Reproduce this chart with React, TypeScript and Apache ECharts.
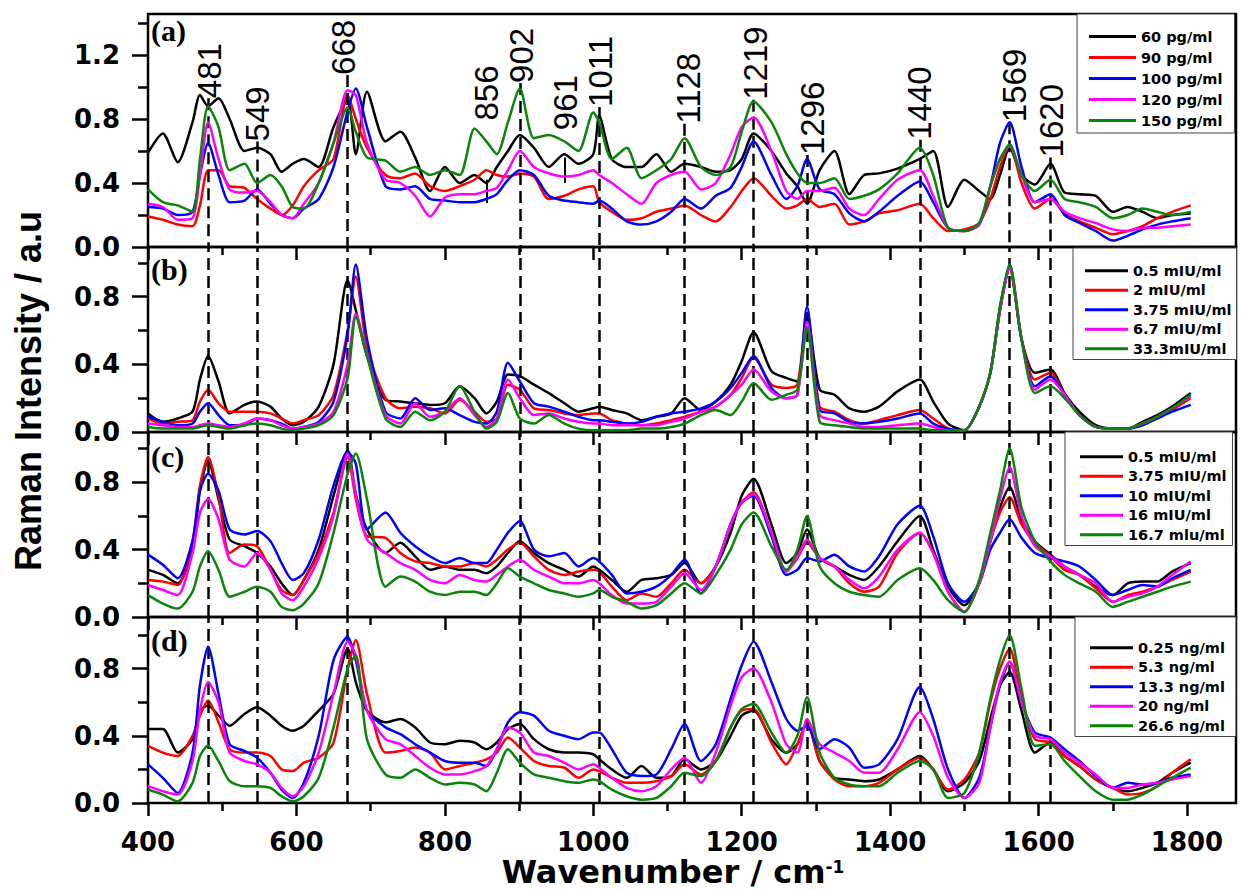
import React, { useEffect, useRef } from "react";
import * as echarts from "echarts";

// ---------- data ----------
const X = [
  400, 420, 440, 460, 470, 481, 495, 510, 530, 547,
  565, 580, 595, 610, 630, 650, 669, 680, 695, 720,
  740, 760, 780, 800, 820, 840, 856, 870, 885, 901,
  920, 940, 961, 980, 1000, 1008, 1025, 1045, 1065, 1085,
  1105, 1123, 1145, 1165, 1185, 1200, 1216, 1240, 1260, 1275,
  1288, 1305, 1325, 1345, 1365, 1385, 1410, 1440, 1458, 1478,
  1500, 1520, 1535, 1548, 1561, 1577, 1595, 1616, 1635, 1655,
  1677, 1700, 1720, 1740, 1760, 1780, 1805,
];

const COLORS = ["#000000", "#ff0000", "#0000ff", "#ff00ff", "#0a850a"];

const NAMES_A = ["60 pg/ml", "90 pg/ml", "100 pg/ml", "120 pg/ml", "150 pg/ml"];
const NAMES_B = ["0.5 mIU/ml", "2 mIU/ml", "3.75 mIU/ml", "6.7 mIU/ml", "33.3mIU/ml"];
const NAMES_C = ["0.5 mIU/ml", "3.75 mIU/ml", "10 mIU/ml", "16 mIU/ml", "16.7 mlu/ml"];
const NAMES_D = ["0.25 ng/ml", "5.3 ng/ml", "13.3 ng/ml", "20 ng/ml", "26.6 ng/ml"];

// panel (a)
const A_60 = [
  0.59, 0.71, 0.53, 0.78, 0.95, 0.88, 0.93, 0.80, 0.60, 0.62,
  0.58, 0.47, 0.52, 0.55, 0.50, 0.75, 0.92, 0.58, 0.97, 0.66,
  0.72, 0.56, 0.35, 0.50, 0.40, 0.45, 0.40, 0.50, 0.60, 0.70,
  0.62, 0.50, 0.58, 0.52, 0.58, 0.82, 0.55, 0.50, 0.50, 0.58,
  0.47, 0.52, 0.50, 0.47, 0.48, 0.55, 0.71, 0.60, 0.46, 0.38,
  0.27, 0.48, 0.60, 0.33, 0.45, 0.46, 0.49, 0.55, 0.60, 0.25,
  0.42, 0.35, 0.30, 0.45, 0.62, 0.45, 0.39, 0.52, 0.34, 0.33,
  0.32, 0.22, 0.25, 0.22, 0.18, 0.20, 0.21,
];
const A_90 = [
  0.19, 0.17, 0.14, 0.13, 0.26, 0.48, 0.48, 0.38, 0.37, 0.30,
  0.24, 0.20, 0.26, 0.38, 0.48, 0.55, 0.95, 0.80, 0.62, 0.45,
  0.43, 0.46, 0.38, 0.35, 0.38, 0.42, 0.48, 0.45, 0.44, 0.46,
  0.44, 0.30, 0.32, 0.36, 0.38, 0.28, 0.22, 0.17, 0.18, 0.22,
  0.24, 0.26, 0.20, 0.16, 0.25, 0.35, 0.43, 0.32, 0.24, 0.26,
  0.30, 0.25, 0.27, 0.14, 0.16, 0.21, 0.23, 0.27, 0.18, 0.10,
  0.11, 0.15, 0.30, 0.50, 0.64, 0.40, 0.24, 0.30, 0.21, 0.16,
  0.12, 0.08, 0.10, 0.13, 0.18, 0.22, 0.26,
];
const A_100 = [
  0.25, 0.24, 0.20, 0.22, 0.45, 0.65, 0.45, 0.28, 0.29, 0.36,
  0.27, 0.20, 0.18, 0.24, 0.30, 0.50, 0.85, 0.99, 0.75, 0.38,
  0.36, 0.38, 0.30, 0.29, 0.28, 0.28, 0.30, 0.33, 0.42, 0.48,
  0.45, 0.32, 0.29, 0.28, 0.27, 0.29, 0.24, 0.16, 0.14, 0.16,
  0.22, 0.30, 0.24, 0.32, 0.37, 0.50, 0.66, 0.45, 0.30, 0.38,
  0.55, 0.36, 0.33, 0.21, 0.16, 0.22, 0.32, 0.41, 0.28, 0.12,
  0.10, 0.14, 0.38, 0.65, 0.78, 0.50, 0.28, 0.33, 0.20, 0.15,
  0.10, 0.04, 0.07, 0.11, 0.14, 0.16, 0.18,
];
const A_120 = [
  0.27, 0.25, 0.17, 0.18, 0.45, 0.78, 0.55, 0.36, 0.34, 0.35,
  0.28, 0.20, 0.18, 0.27, 0.40, 0.65, 0.98, 0.95, 0.65, 0.42,
  0.40, 0.32, 0.19, 0.31, 0.33, 0.33, 0.35, 0.37, 0.48, 0.60,
  0.50, 0.46, 0.44, 0.45, 0.48, 0.45, 0.40, 0.33, 0.27, 0.40,
  0.45, 0.47, 0.36, 0.40, 0.58, 0.75, 0.81, 0.60, 0.35, 0.30,
  0.35, 0.35, 0.37, 0.24, 0.20, 0.30, 0.42, 0.48, 0.32, 0.12,
  0.10, 0.14, 0.38, 0.55, 0.63, 0.45, 0.28, 0.30, 0.22, 0.18,
  0.15, 0.11, 0.10, 0.12, 0.12, 0.13, 0.14,
];
const A_150 = [
  0.36, 0.28, 0.26, 0.22, 0.55, 0.88, 0.75, 0.48, 0.52, 0.40,
  0.45, 0.38, 0.25, 0.24, 0.40, 0.65, 0.87, 0.72, 0.56, 0.54,
  0.47, 0.50, 0.45, 0.48, 0.45, 0.74, 0.66, 0.58, 0.78, 0.99,
  0.68, 0.70, 0.66, 0.60, 0.84, 0.78, 0.55, 0.62, 0.43, 0.48,
  0.55, 0.68, 0.50, 0.45, 0.50, 0.72, 0.91, 0.78, 0.58, 0.46,
  0.40, 0.40, 0.43, 0.30, 0.32, 0.36, 0.46, 0.62, 0.45, 0.12,
  0.10, 0.15, 0.38, 0.55, 0.64, 0.45, 0.35, 0.42, 0.30, 0.28,
  0.25, 0.18, 0.20, 0.24, 0.22, 0.20, 0.22,
];

// panel (b)
const B_05 = [
  0.11, 0.06, 0.08, 0.12, 0.31, 0.45, 0.30, 0.11, 0.16, 0.18,
  0.15, 0.08, 0.04, 0.06, 0.15, 0.40, 0.90, 0.72, 0.45, 0.19,
  0.18, 0.17, 0.16, 0.17, 0.27, 0.20, 0.11, 0.18, 0.34, 0.33,
  0.28, 0.23, 0.17, 0.12, 0.14, 0.15, 0.13, 0.11, 0.07, 0.09,
  0.11, 0.20, 0.13, 0.18, 0.28, 0.42, 0.59, 0.36, 0.32, 0.30,
  0.70, 0.25, 0.22, 0.14, 0.12, 0.15, 0.24, 0.31, 0.18, 0.05,
  0.01, 0.15, 0.35, 0.74, 0.97, 0.55, 0.35, 0.37, 0.23, 0.12,
  0.04, 0.02, 0.02, 0.06, 0.10, 0.15, 0.23,
];
const B_2 = [
  0.08, 0.05, 0.06, 0.07, 0.18, 0.25, 0.17, 0.12, 0.12, 0.12,
  0.11, 0.08, 0.05, 0.07, 0.10, 0.22, 0.60, 0.92, 0.50, 0.20,
  0.14, 0.15, 0.14, 0.11, 0.19, 0.12, 0.06, 0.08, 0.28, 0.25,
  0.14, 0.13, 0.11, 0.10, 0.11, 0.11, 0.07, 0.05, 0.04, 0.05,
  0.07, 0.09, 0.12, 0.15, 0.22, 0.32, 0.44, 0.28, 0.26, 0.28,
  0.70, 0.15, 0.12, 0.07, 0.05, 0.07, 0.10, 0.13, 0.08, 0.02,
  0.01, 0.15, 0.35, 0.72, 0.97, 0.55, 0.31, 0.35, 0.22, 0.10,
  0.03, 0.02, 0.02, 0.05, 0.08, 0.13, 0.20,
];
const B_375 = [
  0.09, 0.06, 0.04, 0.05, 0.12, 0.17, 0.10, 0.04, 0.04, 0.08,
  0.07, 0.05, 0.02, 0.03, 0.06, 0.18, 0.58, 0.99, 0.55, 0.12,
  0.08, 0.20, 0.13, 0.14, 0.10, 0.06, 0.05, 0.12, 0.41, 0.30,
  0.17, 0.15, 0.12, 0.09, 0.07, 0.07, 0.06, 0.05, 0.06, 0.09,
  0.11, 0.12, 0.14, 0.18, 0.26, 0.35, 0.45, 0.26, 0.20, 0.22,
  0.74, 0.13, 0.11, 0.06, 0.05, 0.06, 0.08, 0.11, 0.05, 0.02,
  0.01, 0.15, 0.35, 0.72, 0.99, 0.55, 0.27, 0.33, 0.22, 0.10,
  0.03, 0.02, 0.02, 0.04, 0.08, 0.12, 0.16,
];
const B_67 = [
  0.05, 0.04, 0.03, 0.03, 0.04, 0.05, 0.04, 0.03, 0.05, 0.08,
  0.07, 0.04, 0.02, 0.03, 0.05, 0.12, 0.40, 0.70, 0.46, 0.10,
  0.05, 0.17, 0.09, 0.12, 0.20, 0.10, 0.03, 0.08, 0.31, 0.20,
  0.10, 0.11, 0.08, 0.06, 0.05, 0.05, 0.04, 0.04, 0.04, 0.04,
  0.06, 0.08, 0.12, 0.15, 0.22, 0.28, 0.37, 0.24, 0.20, 0.22,
  0.65, 0.10, 0.07, 0.05, 0.03, 0.03, 0.04, 0.05, 0.03, 0.01,
  0.01, 0.15, 0.35, 0.72, 0.97, 0.55, 0.25, 0.31, 0.22, 0.10,
  0.03, 0.02, 0.02, 0.05, 0.09, 0.14, 0.21,
];
const B_333 = [
  0.03, 0.02, 0.02, 0.02, 0.03, 0.04, 0.03, 0.02, 0.04, 0.05,
  0.04, 0.02, 0.01, 0.02, 0.04, 0.10, 0.32, 0.68, 0.45, 0.08,
  0.03, 0.12, 0.07, 0.12, 0.27, 0.12, 0.02, 0.06, 0.23, 0.08,
  0.05, 0.10, 0.05, 0.02, 0.01, 0.01, 0.01, 0.01, 0.02, 0.02,
  0.03, 0.05, 0.10, 0.13, 0.10, 0.18, 0.29, 0.19, 0.22, 0.25,
  0.62, 0.06, 0.04, 0.03, 0.02, 0.02, 0.02, 0.02, 0.01, 0.01,
  0.01, 0.15, 0.35, 0.74, 0.99, 0.55, 0.23, 0.27, 0.20, 0.10,
  0.03, 0.02, 0.02, 0.05, 0.09, 0.14, 0.22,
];

// panel (c)
const C_05 = [
  0.28, 0.25, 0.20, 0.40, 0.75, 0.93, 0.70, 0.46, 0.42, 0.38,
  0.30, 0.20, 0.13, 0.22, 0.40, 0.72, 0.99, 0.73, 0.52, 0.38,
  0.44, 0.36, 0.28, 0.30, 0.28, 0.28, 0.26, 0.30, 0.38, 0.45,
  0.38, 0.32, 0.28, 0.24, 0.30, 0.28, 0.22, 0.15, 0.22, 0.23,
  0.25, 0.32, 0.20, 0.30, 0.50, 0.72, 0.82, 0.55, 0.32, 0.38,
  0.52, 0.35, 0.30, 0.25, 0.22, 0.30, 0.45, 0.60, 0.40, 0.18,
  0.07, 0.20, 0.45, 0.65, 0.77, 0.58, 0.45, 0.37, 0.30, 0.25,
  0.18, 0.13, 0.20, 0.21, 0.21, 0.27, 0.32,
];
const C_375 = [
  0.22, 0.21, 0.19, 0.45, 0.78, 0.95, 0.72, 0.38, 0.43, 0.42,
  0.28, 0.16, 0.13, 0.22, 0.38, 0.62, 0.95, 0.70, 0.48, 0.47,
  0.38, 0.33, 0.32, 0.30, 0.30, 0.32, 0.30, 0.34, 0.40, 0.44,
  0.36, 0.28, 0.25, 0.27, 0.28, 0.27, 0.18, 0.10, 0.14, 0.12,
  0.20, 0.28, 0.20, 0.30, 0.55, 0.68, 0.74, 0.50, 0.27, 0.35,
  0.44, 0.35, 0.30, 0.20, 0.15, 0.18, 0.38, 0.50, 0.38, 0.15,
  0.03, 0.20, 0.45, 0.62, 0.71, 0.55, 0.44, 0.36, 0.28, 0.25,
  0.17, 0.09, 0.13, 0.15, 0.18, 0.22, 0.27,
];
const C_10 = [
  0.37, 0.31, 0.23, 0.45, 0.75, 0.85, 0.75, 0.52, 0.49, 0.51,
  0.45, 0.32, 0.22, 0.26, 0.46, 0.78, 0.98, 0.91, 0.52, 0.62,
  0.50, 0.42, 0.36, 0.32, 0.35, 0.32, 0.32, 0.40, 0.50, 0.57,
  0.40, 0.36, 0.38, 0.30, 0.35, 0.33, 0.25, 0.14, 0.15, 0.18,
  0.25, 0.34, 0.14, 0.30, 0.55, 0.68, 0.72, 0.48, 0.25, 0.28,
  0.35, 0.33, 0.37, 0.30, 0.27, 0.36, 0.55, 0.66, 0.48, 0.20,
  0.09, 0.20, 0.40, 0.50, 0.58, 0.47, 0.38, 0.35, 0.33, 0.30,
  0.22, 0.13, 0.16, 0.19, 0.18, 0.23, 0.28,
];
const C_16 = [
  0.19, 0.16, 0.13, 0.38, 0.62, 0.70, 0.58, 0.34, 0.30, 0.38,
  0.28, 0.14, 0.10, 0.18, 0.35, 0.60, 0.97, 0.72, 0.46, 0.38,
  0.32, 0.28, 0.22, 0.20, 0.25, 0.22, 0.21, 0.25, 0.30, 0.34,
  0.28, 0.24, 0.20, 0.20, 0.22, 0.20, 0.13, 0.08, 0.08, 0.09,
  0.18, 0.26, 0.16, 0.30, 0.55, 0.68, 0.73, 0.50, 0.27, 0.36,
  0.46, 0.35, 0.30, 0.22, 0.17, 0.24, 0.40, 0.50, 0.38, 0.15,
  0.03, 0.20, 0.45, 0.70, 0.89, 0.60, 0.42, 0.36, 0.30, 0.25,
  0.20, 0.09, 0.12, 0.14, 0.18, 0.25, 0.33,
];
const C_167 = [
  0.13, 0.08, 0.05, 0.15, 0.30, 0.39, 0.28, 0.12, 0.15, 0.18,
  0.15, 0.06, 0.04, 0.08, 0.20, 0.50, 0.85, 0.97, 0.70, 0.18,
  0.24, 0.21, 0.15, 0.13, 0.15, 0.15, 0.13, 0.20, 0.29, 0.24,
  0.20, 0.16, 0.14, 0.12, 0.14, 0.16, 0.12, 0.09, 0.05, 0.07,
  0.14, 0.20, 0.14, 0.25, 0.40, 0.55, 0.62, 0.42, 0.28, 0.40,
  0.60, 0.30, 0.20, 0.15, 0.13, 0.12, 0.22, 0.29, 0.22, 0.10,
  0.03, 0.22, 0.50, 0.75, 1.00, 0.65, 0.45, 0.33, 0.25, 0.20,
  0.15, 0.06, 0.09, 0.12, 0.15, 0.18, 0.21,
];

// panel (d)
const D_025 = [
  0.44, 0.44, 0.30, 0.38, 0.55, 0.58, 0.52, 0.46, 0.53, 0.57,
  0.52, 0.46, 0.43, 0.46, 0.55, 0.65, 0.92, 0.72, 0.55, 0.48,
  0.50, 0.45, 0.36, 0.35, 0.37, 0.36, 0.32, 0.36, 0.44, 0.47,
  0.38, 0.32, 0.30, 0.30, 0.29, 0.26, 0.20, 0.15, 0.22, 0.15,
  0.16, 0.26, 0.20, 0.25, 0.40, 0.52, 0.55, 0.38, 0.30, 0.35,
  0.48, 0.25, 0.15, 0.14, 0.13, 0.14, 0.20, 0.28, 0.20, 0.07,
  0.12, 0.25, 0.50, 0.70, 0.78, 0.55, 0.30, 0.36, 0.28, 0.22,
  0.14, 0.09, 0.07, 0.09, 0.12, 0.18, 0.24,
];
const D_53 = [
  0.34, 0.30, 0.28, 0.40, 0.52, 0.61, 0.48, 0.32, 0.30, 0.30,
  0.28, 0.20, 0.19, 0.24, 0.27, 0.36, 0.80, 0.97, 0.65, 0.30,
  0.31, 0.33, 0.30, 0.20, 0.22, 0.24, 0.26, 0.30, 0.39, 0.33,
  0.25, 0.22, 0.21, 0.15, 0.20, 0.19, 0.15, 0.12, 0.12, 0.13,
  0.16, 0.23, 0.17, 0.25, 0.45, 0.55, 0.56, 0.36, 0.23, 0.35,
  0.48, 0.25, 0.14, 0.10, 0.10, 0.12, 0.20, 0.27, 0.20, 0.08,
  0.14, 0.30, 0.60, 0.80, 0.92, 0.62, 0.38, 0.36, 0.28, 0.22,
  0.14, 0.09, 0.05, 0.06, 0.10, 0.18, 0.26,
];
const D_133 = [
  0.23, 0.15, 0.06, 0.30, 0.70, 0.93, 0.65, 0.35, 0.31, 0.27,
  0.18, 0.08, 0.03, 0.12, 0.40, 0.85, 0.99, 0.85, 0.55, 0.45,
  0.41, 0.35, 0.30, 0.25, 0.24, 0.24, 0.22, 0.32, 0.48, 0.54,
  0.52, 0.43, 0.40, 0.38, 0.42, 0.42, 0.32, 0.18, 0.16, 0.17,
  0.32, 0.47, 0.25, 0.35, 0.62, 0.82, 0.96, 0.72, 0.50, 0.43,
  0.46, 0.32, 0.38, 0.33, 0.21, 0.23, 0.38, 0.69, 0.50, 0.20,
  0.03, 0.15, 0.45, 0.70, 0.84, 0.60, 0.42, 0.39, 0.32, 0.25,
  0.16, 0.09, 0.12, 0.11, 0.12, 0.15, 0.17,
];
const D_20 = [
  0.10, 0.07, 0.05, 0.25, 0.55, 0.72, 0.60, 0.30, 0.25, 0.23,
  0.18, 0.09, 0.04, 0.10, 0.30, 0.65, 0.96, 0.88, 0.55, 0.38,
  0.35, 0.28, 0.21, 0.17, 0.17, 0.19, 0.22, 0.32, 0.45, 0.42,
  0.30, 0.28, 0.24, 0.20, 0.23, 0.21, 0.15, 0.09, 0.07, 0.10,
  0.20, 0.27, 0.12, 0.30, 0.58, 0.75, 0.80, 0.60, 0.35, 0.30,
  0.50, 0.35, 0.30, 0.25, 0.18, 0.18, 0.32, 0.54, 0.40, 0.15,
  0.03, 0.12, 0.45, 0.72, 0.84, 0.60, 0.40, 0.38, 0.30, 0.24,
  0.17, 0.09, 0.09, 0.11, 0.12, 0.14, 0.16,
];
const D_266 = [
  0.08, 0.05, 0.01, 0.12, 0.28, 0.34, 0.25, 0.13, 0.10, 0.10,
  0.09, 0.04, 0.01, 0.04, 0.15, 0.45, 0.80, 0.88, 0.38, 0.17,
  0.15, 0.20, 0.15, 0.11, 0.12, 0.11, 0.07, 0.18, 0.32, 0.24,
  0.17, 0.15, 0.13, 0.12, 0.14, 0.13, 0.08, 0.04, 0.02, 0.03,
  0.10, 0.18, 0.16, 0.25, 0.45, 0.56, 0.59, 0.42, 0.30, 0.40,
  0.63, 0.30, 0.15, 0.11, 0.10, 0.10, 0.18, 0.25, 0.20, 0.03,
  0.06, 0.30, 0.62, 0.85, 1.00, 0.68, 0.34, 0.35, 0.25, 0.16,
  0.07, 0.02, 0.02, 0.05, 0.10, 0.15, 0.21,
];

// peak annotations (panel a)
const PEAK_LABELS = ["481", "549", "668", "856", "902", "961", "1011", "1128", "1219", "1296", "1440", "1569", "1620"];
const PEAK_LABEL_X = [483, 548, 664, 856, 903, 962, 1010, 1128, 1219, 1295, 1440, 1567, 1617];
const PEAK_LABEL_Y = [0.93, 0.66, 1.075, 0.79, 1.025, 0.73, 0.875, 0.77, 0.92, 0.575, 0.67, 0.78, 0.56];
const PEAK_LINES = [481, 547, 669, 901, 1008, 1123, 1216, 1288, 1440, 1561, 1616];
const PEAK_LINE_TOP_A = [0.93, 0.66, 1.075, 1.025, 0.875, 0.77, 0.92, 0.575, 0.67, 0.78, 0.56];
const SHORT_MARK_X = [856, 961];
const SHORT_MARK_Y0 = [0.275, 0.40];
const SHORT_MARK_Y1 = [0.42, 0.56];

const X_MAJOR = [400, 600, 800, 1000, 1200, 1400, 1600, 1800];
const X_MINOR = [500, 700, 900, 1100, 1300, 1500, 1700];
const Y_MAJOR_A = [0, 0.4, 0.8, 1.2];
const Y_MINOR_A = [0.2, 0.6, 1.0, 1.4];
const Y_MAJOR = [0, 0.4, 0.8];
const Y_MINOR = [0.2, 0.6, 1.0];

// ---------- layout ----------
const PLOT_LEFT = 148;
const PLOT_WIDTH = 1088;
const PANELS = [
  { names: NAMES_A, values: [A_60, A_90, A_100, A_120, A_150], top: 14, height: 233, yMax: 1.456, yMajor: Y_MAJOR_A, yMinor: Y_MINOR_A, tag: "(a)", tagY: 30 },
  { names: NAMES_B, values: [B_05, B_2, B_375, B_67, B_333], top: 247, height: 185, yMax: 1.094, yMajor: Y_MAJOR, yMinor: Y_MINOR, tag: "(b)", tagY: 269 },
  { names: NAMES_C, values: [C_05, C_375, C_10, C_16, C_167], top: 432, height: 185, yMax: 1.098, yMajor: Y_MAJOR, yMinor: Y_MINOR, tag: "(c)", tagY: 456 },
  { names: NAMES_D, values: [D_025, D_53, D_133, D_20, D_266], top: 617, height: 186, yMax: 1.107, yMajor: Y_MAJOR, yMinor: Y_MINOR, tag: "(d)", tagY: 640 },
];
const LEGENDS = [
  { left: 1077, top: 14, padding: [12, 12, 2, 12], itemWidth: 47, lineHeight: 21 },
  { left: 1073, top: 248, padding: [13, 5, 1, 12], itemWidth: 43, lineHeight: 19.5 },
  { left: 1065, top: 432, padding: [15, 6, 1, 15], itemWidth: 43, lineHeight: 19.5 },
  { left: 1075, top: 617, padding: [21, 11, 1, 15], itemWidth: 43, lineHeight: 19.5 },
];

const AXIS_FONT = "DejaVu Sans";

function buildOption() {
  const grid: any[] = [];
  const xAxis: any[] = [];
  const yAxis: any[] = [];
  const series: any[] = [];
  const legend: any[] = [];
  const graphic: any[] = [];

  PANELS.forEach((p, i) => {
    grid.push({
      left: PLOT_LEFT,
      top: p.top,
      width: PLOT_WIDTH,
      height: p.height,
      show: true,
      borderColor: "#000",
      borderWidth: 2.5,
      backgroundColor: "transparent",
      containLabel: false,
    });
    const isLast = i === PANELS.length - 1;
    // major x
    xAxis.push({
      gridIndex: i,
      type: "value",
      position: "bottom",
      min: 400,
      max: 1866,
      interval: 200,
      axisLine: { show: false },
      axisTick: { show: true, inside: false, length: 13, customValues: X_MAJOR, lineStyle: { color: "#000", width: 2.5 } },
      axisLabel: {
        show: isLast,
        customValues: X_MAJOR,
        formatter: (v: number) => String(v),
        margin: 29,
        verticalAlign: "top",
        lineHeight: 20,
        color: "#000",
        fontFamily: AXIS_FONT,
        fontWeight: "bold",
        fontSize: 26,
      },
      splitLine: { show: false },
    });
    // minor x
    xAxis.push({
      gridIndex: i,
      type: "value",
      position: "bottom",
      offset: 0,
      min: 400,
      max: 1866,
      interval: 100,
      axisLine: { show: false },
      axisTick: { show: true, inside: false, length: 8, customValues: X_MINOR, lineStyle: { color: "#000", width: 2.5 } },
      axisLabel: { show: false },
      splitLine: { show: false },
    });
    // major y
    yAxis.push({
      gridIndex: i,
      type: "value",
      position: "left",
      min: 0,
      max: p.yMax,
      interval: 0.4,
      axisLine: { show: false },
      axisTick: { show: true, inside: false, length: 16, customValues: p.yMajor, lineStyle: { color: "#000", width: 2.5 } },
      axisLabel: {
        show: true,
        customValues: p.yMajor,
        formatter: (v: number) => v.toFixed(1),
        margin: 28,
        color: "#000",
        fontFamily: AXIS_FONT,
        fontWeight: "bold",
        fontSize: 26,
      },
      splitLine: { show: false },
    });
    // minor y
    yAxis.push({
      gridIndex: i,
      type: "value",
      position: "left",
      offset: 0,
      min: 0,
      max: p.yMax,
      interval: 0.2,
      axisLine: { show: false },
      axisTick: { show: true, inside: false, length: 10, customValues: p.yMinor, lineStyle: { color: "#000", width: 2.5 } },
      axisLabel: { show: false },
      splitLine: { show: false },
    });

    p.names.forEach((name, j) => {
      const s: any = {
        type: "line",
        name,
        xAxisIndex: 2 * i,
        yAxisIndex: 2 * i,
        data: X.map((x, k) => [x, p.values[j][k]]),
        symbol: "none",
        showSymbol: false,
        smooth: 0.25,
        color: COLORS[j],
        lineStyle: { color: COLORS[j], width: 2.5 },
        itemStyle: { color: COLORS[j] },
        z: 3 + j,
        silent: true,
      };
      if (j === 0) {
        const lineData =
          i === 0
            ? PEAK_LINES.map((x, k) => [{ coord: [x, PEAK_LINE_TOP_A[k]] }, { coord: [x, 0] }])
            : PEAK_LINES.map((x) => ({ xAxis: x }));
        s.markLine = {
          silent: true,
          symbol: ["none", "none"],
          label: { show: false },
          lineStyle: { color: "#000", type: [12, 6], width: 2.5 },
          data: lineData,
        };
      }
      series.push(s);
    });

    const lg = LEGENDS[i];
    legend.push({
      orient: "vertical",
      left: lg.left,
      top: lg.top,
      padding: lg.padding,
      itemGap: 0,
      itemWidth: lg.itemWidth,
      itemHeight: 3,
      icon: "rect",
      selectedMode: false,
      borderColor: "#444",
      borderWidth: 1,
      backgroundColor: "#fff",
      textStyle: {
        color: "#000",
        fontFamily: AXIS_FONT,
        fontWeight: "bold",
        fontSize: 14.5,
        lineHeight: lg.lineHeight,
      },
      data: p.names.map((n, j) => ({ name: n, icon: "rect", itemStyle: { color: COLORS[j] } })),
    });

    graphic.push({
      type: "text",
      x: PLOT_LEFT + 3,
      y: p.tagY,
      z: 100,
      style: {
        text: p.tag,
        fontFamily: "Liberation Serif",
        fontWeight: "bold",
        fontSize: 30,
        fill: "#000",
        align: "left",
        verticalAlign: "middle",
      },
    });
  });

  // short solid marks in panel (a)
  series.push({
    type: "line",
    xAxisIndex: 0,
    yAxisIndex: 0,
    data: [],
    silent: true,
    markLine: {
      silent: true,
      symbol: ["none", "none"],
      label: { show: false },
      lineStyle: { color: "#000", type: "solid", width: 2 },
      data: SHORT_MARK_X.map((x, k) => [{ coord: [x, SHORT_MARK_Y0[k]] }, { coord: [x, SHORT_MARK_Y1[k]] }]),
    },
  });

  // peak labels in panel (a)
  series.push({
    type: "scatter",
    xAxisIndex: 0,
    yAxisIndex: 0,
    symbolSize: 1,
    silent: true,
    itemStyle: { color: "rgba(0,0,0,0)", opacity: 1 },
    z: 20,
    data: PEAK_LABELS.map((t, k) => ({ value: [PEAK_LABEL_X[k], PEAK_LABEL_Y[k]], name: t })),
    label: {
      show: true,
      formatter: (p: any) => p.name,
      position: "inside",
      rotate: 90,
      align: "left",
      verticalAlign: "middle",
      fontFamily: "Liberation Sans",
      fontSize: 33,
      color: "#000",
      opacity: 1,
      textBorderWidth: 0,
      textBorderColor: "transparent",
    },
  });

  graphic.push({
    type: "text",
    x: 28,
    y: 391,
    rotation: Math.PI / 2,
    style: {
      text: "Raman Intensity / a.u",
      fontFamily: "Liberation Sans",
      fontWeight: "bold",
      fontSize: 36,
      fill: "#000",
      align: "center",
      verticalAlign: "middle",
    },
  });
  graphic.push({
    type: "text",
    x: 673,
    y: 872,
    style: {
      text: "{m|Wavenumber / cm}{s|-1}",
      fill: "#000",
      align: "center",
      verticalAlign: "middle",
      rich: {
        m: { fontFamily: AXIS_FONT, fontWeight: "bold", fontSize: 32, lineHeight: 28, fill: "#000" },
        s: { fontFamily: AXIS_FONT, fontWeight: "bold", fontSize: 17, lineHeight: 20, fill: "#000", verticalAlign: "top" },
      },
    },
  });

  return {
    animation: false,
    backgroundColor: "#ffffff",
    grid,
    xAxis,
    yAxis,
    legend,
    series,
    graphic,
  };
}

export default function App() {
  const ref = useRef<HTMLDivElement>(null);
  useEffect(() => {
    if (!ref.current) return;
    const chart = echarts.init(ref.current, undefined, { renderer: "svg" });
    chart.setOption(buildOption() as any);
    return () => chart.dispose();
  }, []);
  return (
    <div
      ref={ref}
      style={{ position: "absolute", left: 0, top: 0, width: 1244, height: 890, background: "#fff" }}
    />
  );
}
